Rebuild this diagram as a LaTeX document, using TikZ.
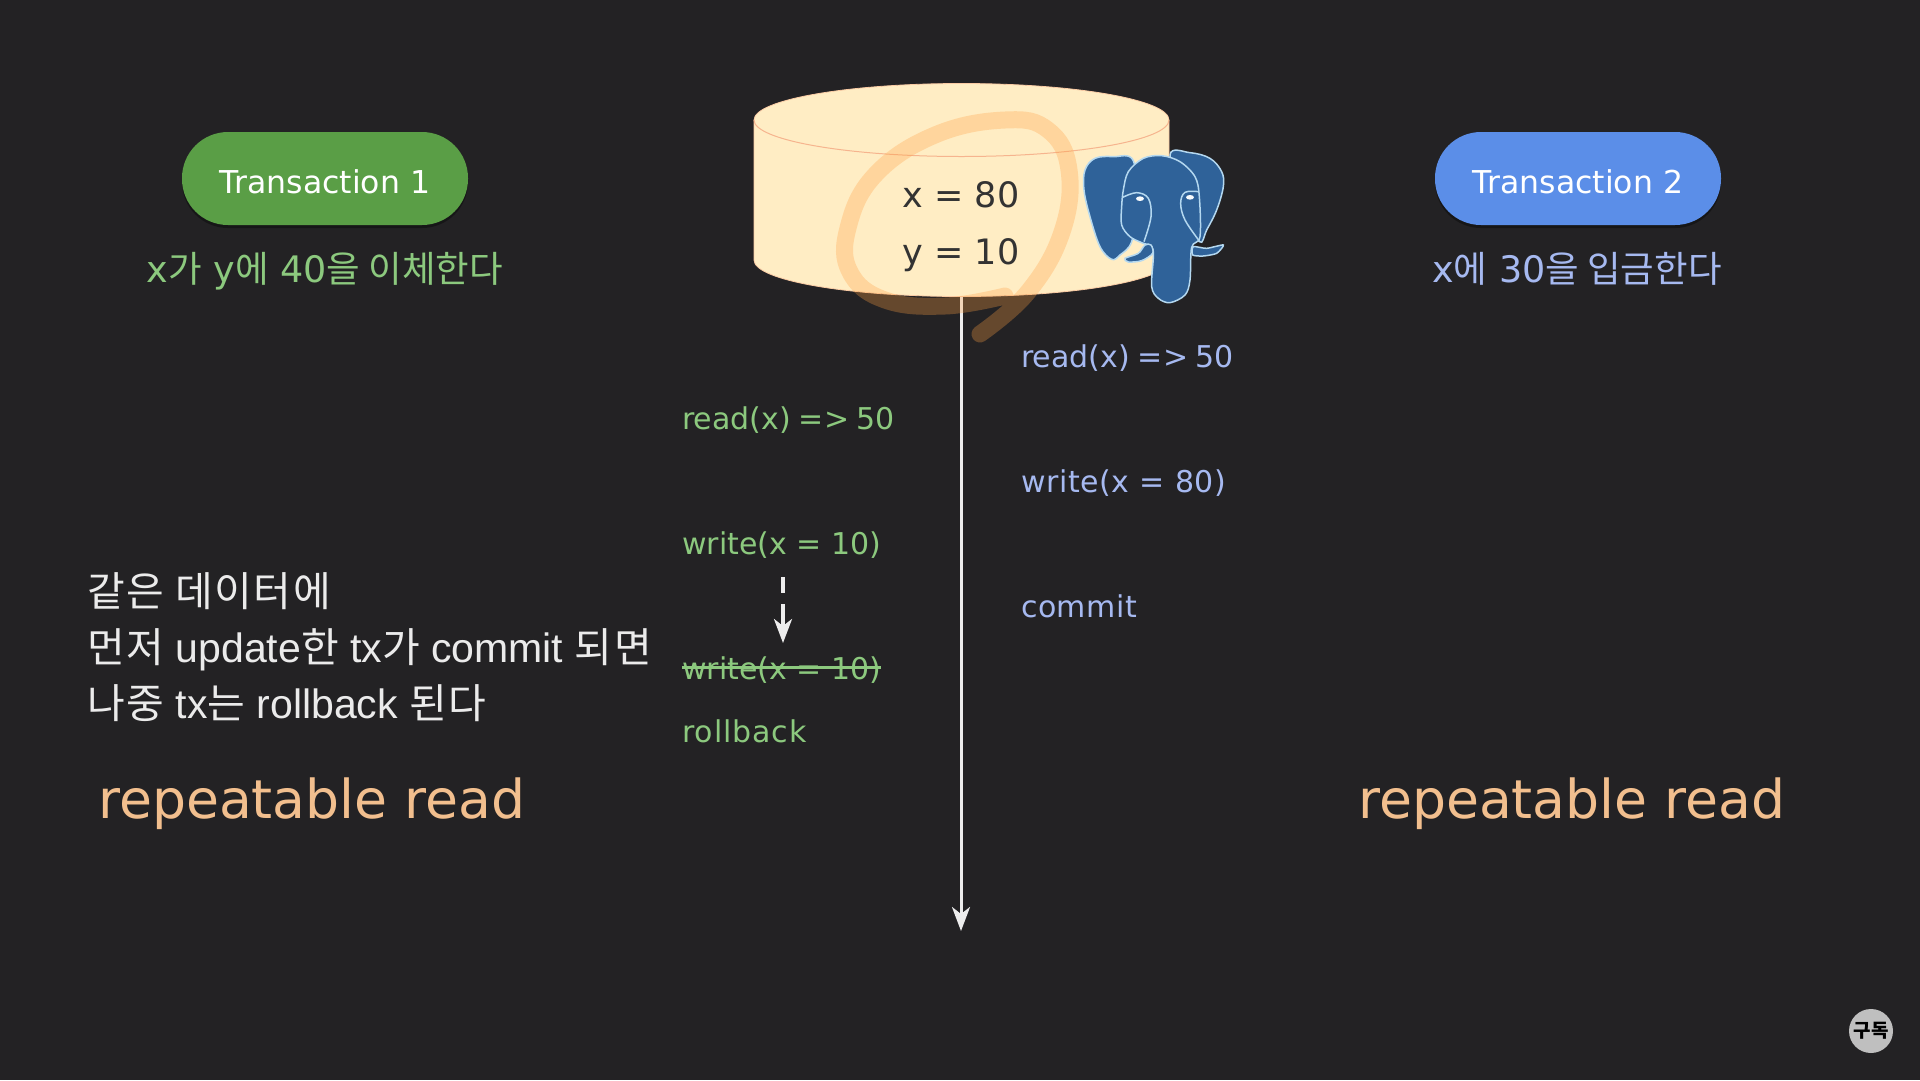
\documentclass[tikz,border=0pt]{standalone}
\usepackage{fontspec}
\setmainfont{DejaVu Sans}
\newfontfamily\kr{Noto Sans CJK KR}
\newfontfamily\krw[LetterSpace=4]{Noto Sans CJK KR}
\newfontfamily\arialf{Liberation Sans}
\usetikzlibrary{arrows.meta,shadows}
\definecolor{bg}{HTML}{232224}
\definecolor{cream}{HTML}{FFEDC4}
\definecolor{rim}{HTML}{F6B48E}
\definecolor{ring}{HTML}{FFA043}
\definecolor{pgblue}{HTML}{2F6299}
\definecolor{pgline}{HTML}{B4D8F0}
\definecolor{gtext}{HTML}{8CC97E}
\definecolor{btext}{HTML}{A6B9F0}
\definecolor{peach}{HTML}{F2BF8E}
\definecolor{gpill}{HTML}{5A9E46}
\definecolor{bpill}{HTML}{5B8EE8}
\tikzset{
 pill/.style={rounded corners=46pt,minimum width=286pt,minimum height=93pt,text=white,inner sep=0pt,font=\fontsize{31.5}{36}\selectfont,text height=29.5pt,text depth=0pt,drop shadow={shadow xshift=0pt,shadow yshift=-3pt,fill=black,opacity=.35}},
 sub/.style={font=\fontsize{36.5}{40}\selectfont,inner sep=0pt,anchor=base},
 gop/.style={text=gtext,anchor=base west,inner sep=0pt,font=\fontsize{30}{34}\selectfont},
 bop/.style={text=btext,anchor=base west,inner sep=0pt,font=\fontsize{30}{34}\selectfont},
 val/.style={text=black!80,inner sep=0pt,anchor=base,font=\fontsize{35}{40}\selectfont},
 iso/.style={text=peach,inner sep=0pt,anchor=base west,font=\fontsize{53.6}{58}\selectfont},
 note/.style={text=white!92!black,anchor=base west,inner sep=0pt,font=\fontsize{41}{45}\selectfont\arialf},
 wflow/.style={draw=white!93!black,line width=3pt,-{Stealth[length=24pt,width=18pt,inset=7pt]}},
 ele/.style={fill=pgblue,draw=pgline,line width=1.5pt},
 eleline/.style={draw=pgline,line width=1.5pt},
}
\begin{document}
\begin{tikzpicture}[x=1pt,y=-1pt]
\fill[bg] (0,0) rectangle (1920,1080);
\useasboundingbox (0,0) rectangle (1920,1080);
% database
\fill[cream,draw=rim!60!cream,line width=.8pt] (754,120) arc[x radius=207.5pt,y radius=36.5pt,start angle=180,end angle=0] -- (1169,260) arc[x radius=207.5pt,y radius=36.5pt,start angle=0,end angle=-180] -- cycle;
\draw[rim,line width=1pt] (754,120) arc[x radius=207.5pt,y radius=36.5pt,start angle=180,end angle=360];
\node[val] (vx) at (961,207) {x = 80};
\node[val] (vy) at (961,264) {y = 10};
\coordinate (dbbottom) at (961,297);
\coordinate (timeend) at (961,931);
\draw[wflow] (dbbottom) -- (timeend);
% ring
\draw[ring,opacity=.3,line width=17pt,line cap=round,line join=round] plot[smooth,tension=.7] coordinates {(980,334) (1028,292) (1062,232) (1069,170) (1048,130) (1005,120) (935,135) (875,175) (848,228) (850,272) (885,300) (945,306) (1005,296)};
% elephant
\begin{scope}[shift={(1070,140)},x=.3333pt,y=-.3333pt]
\draw[ele] plot[smooth cycle,tension=.6] coordinates {(190,62) (130,50) (75,55) (45,90) (42,150) (60,230) (90,320) (125,358) (150,345) (185,305) (200,200)};
\draw[ele] plot[smooth cycle,tension=.6] coordinates {(300,45) (360,38) (420,55) (455,95) (460,140) (440,210) (410,270) (388,305) (340,200)};
\draw[ele] plot[smooth cycle,tension=.55] coordinates {(160,150) (175,95) (220,55) (275,47) (330,65) (375,110) (388,170) (390,290) (365,322) (360,420) (345,465) (300,488) (265,475) (245,440) (250,350) (245,320) (215,308) (180,290) (155,255) (155,200)};
\draw[eleline] plot[smooth,tension=.6] coordinates {(158,172) (200,158) (235,175) (243,230) (222,305)};
\draw[eleline] plot[smooth,tension=.6] coordinates {(385,155) (345,157) (332,190) (345,240) (388,303)};
\draw[ele] plot[smooth cycle,tension=.5] coordinates {(243,315) (248,340) (215,362) (175,366) (165,355) (205,340) (225,315)};
\draw[ele] plot[smooth cycle,tension=.4] coordinates {(370,320) (410,325) (460,315) (440,340) (400,348) (368,345)};
\fill[white!90!pgline] (210,176) ellipse[x radius=12,y radius=7];
\fill[white!90!pgline] (360,172) ellipse[x radius=12,y radius=7];
\end{scope}
% transactions
\node[pill,fill=gpill] (t1) at (325,178.5) {Transaction 1};
\node[pill,fill=bpill] (t2) at (1578,178.5) {Transaction 2};
\node[sub,text=gtext] (s1) at (325,282) {x{\kr 가} y{\kr 에} 40{\kr 을 이체한다}};
\node[sub,text=btext] (s2) at (1577,282) {x{\kr 에} 30{\kr 을 입금한다}};
% operations
\node[gop] (g1) at (682,429) {read(x)\hspace{-1.5pt} =>\hspace{-2pt} 50};
\node[gop] (g2) at (682,554) {write(x = 10)};
\node[gop] (g3) at (682,679) {write(x = 10)};
\node[gop] (g4) at (682,742) {\addfontfeature{LetterSpace=3}rollback};
\draw[gtext,line width=3pt] (g3.west |- 0,667) -- (g3.east |- 0,667);
\node[bop] (b1) at (1021,367) {read(x)\hspace{-1.5pt} =>\hspace{-2pt} 50};
\node[bop] (b2) at (1021,492) {\addfontfeature{LetterSpace=2}write(x = 80)};
\node[bop] (b3) at (1021,617) {\addfontfeature{LetterSpace=1.5}commit};
\coordinate (dashstart) at (783,577);
\coordinate (dashend) at (783,643);
\draw[wflow,line width=3.5pt,dash pattern=on 16pt off 11pt on 40pt] (dashstart) -- (dashend);
% note
\node[note] (n1) at (87,606) {{\krw 같은 데이터에}};
\node[note] (n2) at (87,662) {{\krw 먼저} update{\krw 한} tx{\krw 가} commit {\krw 되면}};
\node[note] (n3) at (87,718) {{\krw 나중} tx{\krw 는} rollback {\krw 된다}};
\node[iso] (r1) at (98,818) {repeatable read};
\node[iso] (r2) at (1358,818) {repeatable read};
% badge
\node[circle,fill=black!25,minimum size=44pt,inner sep=0pt,text=black,font=\fontsize{19}{20}\selectfont\kr\bfseries] (badge) at (1871,1031) {구독};
\end{tikzpicture}
\end{document}
